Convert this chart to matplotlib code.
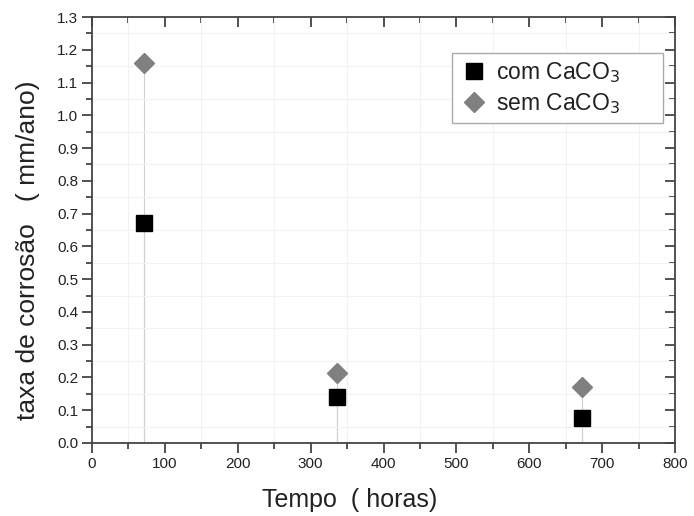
import matplotlib
matplotlib.use("Agg")
import matplotlib.pyplot as plt
from matplotlib.ticker import MultipleLocator, FormatStrFormatter

tempo = [72, 336, 672]
com_caco3 = [0.67, 0.14, 0.076]
sem_caco3 = [1.16, 0.215, 0.17]

plt.rcParams['font.family'] = ['Liberation Sans', 'DejaVu Sans']

fig = plt.figure(figsize=(6.94, 5.16), dpi=100)
ax = fig.add_axes([0.1326, 0.1415, 0.84, 0.8255])

axis_col = '#444444'
txt_col = '#222222'

# drop lines
ax.vlines(tempo, 0, sem_caco3, color='#d0d0d0', lw=0.8, zorder=1)
ax.vlines(tempo, 0, com_caco3, color='#d0d0d0', lw=0.8, zorder=1)

ax.plot(tempo, com_caco3, linestyle='none', marker='s', markersize=11,
        color='black', label='com CaCO$_3$', zorder=3)
ax.plot(tempo, sem_caco3, linestyle='none', marker='D', markersize=10.5,
        color='#808080', label='sem CaCO$_3$', zorder=3)

ax.set_xlim(0, 800)
ax.set_ylim(0, 1.3)
ax.xaxis.set_major_locator(MultipleLocator(100))
ax.xaxis.set_minor_locator(MultipleLocator(50))
ax.yaxis.set_major_locator(MultipleLocator(0.1))
ax.yaxis.set_minor_locator(MultipleLocator(0.05))
ax.yaxis.set_major_formatter(FormatStrFormatter('%.1f'))

ax.grid(which='minor', color='#f2f2f2', lw=0.8, zorder=0)
ax.grid(which='major', visible=False)

for s in ax.spines.values():
    s.set_color(axis_col)
    s.set_linewidth(1.3)

ax.tick_params(which='major', direction='out', length=7, width=1.3, color=axis_col,
               labelsize=11, labelcolor=txt_col, top=False, right=False, pad=3)
ax.tick_params(which='minor', direction='out', length=4, width=1.3, color=axis_col,
               top=False, right=False)

# mirrored inward ticks on top and right
secx = ax.secondary_xaxis('top')
secx.xaxis.set_major_locator(MultipleLocator(100))
secx.xaxis.set_minor_locator(MultipleLocator(50))
secx.tick_params(which='major', direction='in', length=7, width=1.3, color=axis_col, labeltop=False)
secx.tick_params(which='minor', direction='in', length=4, width=1.3, color=axis_col)
secx.spines['top'].set_visible(False)
secy = ax.secondary_yaxis('right')
secy.yaxis.set_major_locator(MultipleLocator(0.1))
secy.yaxis.set_minor_locator(MultipleLocator(0.05))
secy.tick_params(which='major', direction='in', length=7, width=1.3, color=axis_col, labelright=False)
secy.tick_params(which='minor', direction='in', length=4, width=1.3, color=axis_col)
secy.spines['right'].set_visible(False)

ax.set_xlabel('Tempo  ( horas)', fontsize=18, color=txt_col)
ax.set_ylabel('taxa de corrosão   ( mm/ano)', fontsize=19, color=txt_col)
ax.xaxis.set_label_coords(0.4425, -0.106)
ax.yaxis.set_label_coords(-0.09, 0.453)

leg = ax.legend(loc='upper left', bbox_to_anchor=(0.6175, 0.70, 0.3615, 0.215),
                mode='expand', fontsize=16.5,
                frameon=True, fancybox=False, edgecolor='#aaaaaa', borderpad=0.3,
                borderaxespad=0, handletextpad=0.3, labelspacing=0.25,
                handlelength=1.3, framealpha=1)
leg.get_frame().set_linewidth(1.0)
for t in leg.get_texts():
    t.set_color(txt_col)

fig.savefig('out.png', dpi=100)
